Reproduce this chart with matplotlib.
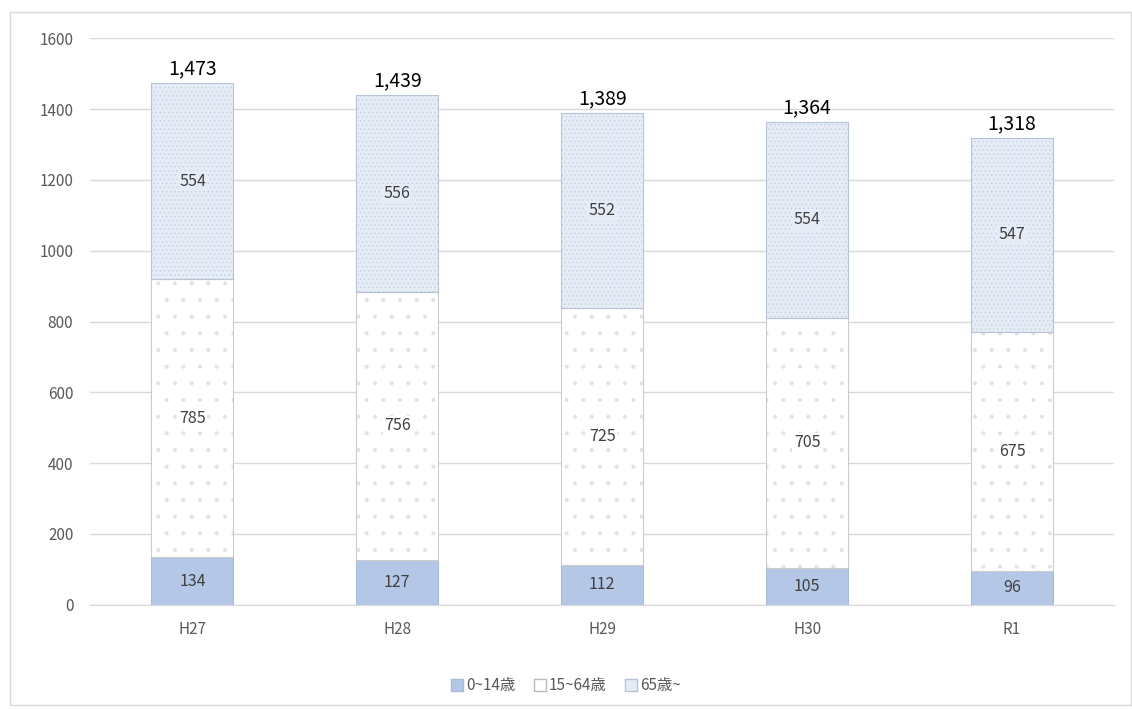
import numpy as np
import matplotlib.pyplot as plt
from matplotlib.patches import Rectangle

plt.rcParams['font.family'] = ['Noto Sans CJK JP', 'DejaVu Sans']
plt.rcParams['hatch.linewidth'] = 0.5

years = ['H27', 'H28', 'H29', 'H30', 'R1']
age_0_14 = [134, 127, 112, 105, 96]
age_15_64 = [785, 756, 725, 705, 675]
age_65 = [554, 556, 552, 554, 547]
totals = [1473, 1439, 1389, 1364, 1318]

fig = plt.figure(figsize=(11.32, 7.09), dpi=100)
ax = fig.add_axes([0.0795, 0.147, 0.905, 0.799])

fig.patches.append(Rectangle((0.009, 0.006), 0.99, 0.977, transform=fig.transFigure,
                             fill=False, edgecolor='#d9d9d9', linewidth=1))

x = np.arange(len(years))
w = 0.4
a = np.array(age_0_14)
b = np.array(age_15_64)
c = np.array(age_65)

ax.bar(x, a, w, color='#b4c7e7', edgecolor='#a8bbd8', linewidth=0.8, label='0~14歳', zorder=3)
# hatch layers first, then outlines
ax.bar(x, b, w, bottom=a, color='white', edgecolor='#e2e2e2', hatch='.', linewidth=0, zorder=3)
ax.bar(x, c, w, bottom=a + b, color='#e6ecf6', edgecolor='#c3d0e4', hatch='....', linewidth=0, zorder=3)
ax.bar(x, b, w, bottom=a, fill=False, edgecolor='#cccccc', linewidth=0.8, zorder=4)
ax.bar(x, c, w, bottom=a + b, fill=False, edgecolor='#b7c3d6', linewidth=0.8, zorder=4)

for i in range(len(years)):
    ax.text(x[i], a[i] / 2, str(a[i]), ha='center', va='center', fontsize=11.5, color='#404040', zorder=5)
    ax.text(x[i], a[i] + b[i] / 2, str(b[i]), ha='center', va='center', fontsize=11.5,
            color='#404040', zorder=5, bbox=dict(facecolor='white', edgecolor='none', pad=1))
    ax.text(x[i], a[i] + b[i] + c[i] / 2, str(c[i]), ha='center', va='center', fontsize=11.5,
            color='#404040', zorder=5, bbox=dict(facecolor='#e6ecf6', edgecolor='none', pad=1))
    ax.text(x[i], totals[i] + 10, f'{totals[i]:,}', ha='center', va='bottom', fontsize=14,
            color='black', zorder=5)

ax.set_xlim(-0.5, len(years) - 0.5)
ax.set_ylim(0, 1600)
ax.set_yticks(range(0, 1601, 200))
ax.set_xticks(x)
ax.set_xticklabels(years)
ax.tick_params(axis='both', length=0, labelsize=11, colors='#595959', pad=12)
ax.yaxis.grid(True, color='#d9d9d9', linewidth=1, zorder=0)
for s in ['top', 'right', 'left']:
    ax.spines[s].set_visible(False)
ax.spines['bottom'].set_color('#d9d9d9')

# legend proxies
h1 = Rectangle((0, 0), 1, 1, facecolor='#b4c7e7', edgecolor='#a8bbd8')
h2 = Rectangle((0, 0), 1, 1, facecolor='white', edgecolor='#bbbbbb')
h3 = Rectangle((0, 0), 1, 1, facecolor='#e6ecf6', edgecolor='#b7c3d6')
leg = fig.legend([h1, h2, h3], ['0~14歳', '15~64歳', '65歳~'], loc='center',
                 bbox_to_anchor=(0.5, 0.033), ncol=3, frameon=False,
                 fontsize=11, handlelength=0.8, handleheight=0.8, handletextpad=0.2,
                 columnspacing=1.2)
for t in leg.get_texts():
    t.set_color('#595959')

plt.savefig('out.png')
